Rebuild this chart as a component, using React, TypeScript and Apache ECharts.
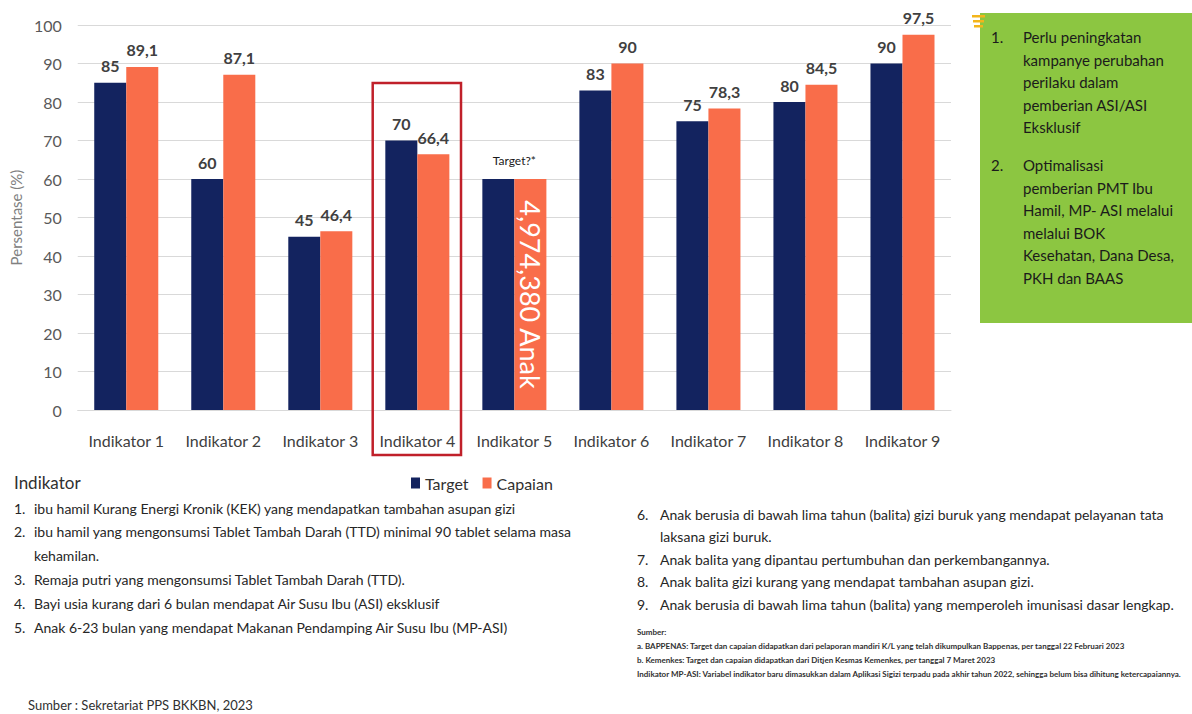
import React, { useEffect, useRef } from "react";
import * as echarts from "echarts";

const categories = [
  "Indikator 1", "Indikator 2", "Indikator 3", "Indikator 4", "Indikator 5",
  "Indikator 6", "Indikator 7", "Indikator 8", "Indikator 9",
];
const targetValues = [85, 60, 45, 70, 60, 83, 75, 80, 90];
const capaianValues = [89.1, 87.1, 46.4, 66.4, 60, 90, 78.3, 84.5, 97.5];
const yTicks = [0, 10, 20, 30, 40, 50, 60, 70, 80, 90, 100];
const specialIndex = 4;
const specialTargetLabel = "Target?*";
const specialCapaianLabel = "4,974,380 Anak";
const highlightedCategory = "Indikator 4";

const greenItems = [
  { num: "1.", lines: ["Perlu peningkatan", "kampanye perubahan", "perilaku dalam", "pemberian ASI/ASI", "Eksklusif"] },
  { num: "2.", lines: ["Optimalisasi", "pemberian PMT Ibu", "Hamil, MP- ASI melalui", "melalui BOK", "Kesehatan, Dana Desa,", "PKH dan BAAS"] },
];

const leftNotes = [
  { num: "1.", lines: ["ibu hamil Kurang Energi Kronik (KEK) yang mendapatkan tambahan asupan gizi"] },
  { num: "2.", lines: ["ibu hamil yang mengonsumsi Tablet Tambah Darah (TTD) minimal 90 tablet selama masa", "kehamilan."] },
  { num: "3.", lines: ["Remaja putri yang mengonsumsi Tablet Tambah Darah (TTD)."] },
  { num: "4.", lines: ["Bayi usia kurang dari 6 bulan mendapat Air Susu Ibu (ASI) eksklusif"] },
  { num: "5.", lines: ["Anak 6-23 bulan yang mendapat Makanan Pendamping Air Susu Ibu (MP-ASI)"] },
];
const rightNotes = [
  { num: "6.", lines: ["Anak berusia di bawah lima tahun (balita) gizi buruk yang mendapat pelayanan tata", "laksana gizi buruk."] },
  { num: "7.", lines: ["Anak balita yang dipantau pertumbuhan dan perkembangannya."] },
  { num: "8.", lines: ["Anak balita gizi kurang yang mendapat tambahan asupan gizi."] },
  { num: "9.", lines: ["Anak berusia di bawah lima tahun (balita) yang memperoleh imunisasi dasar lengkap."] },
];
const sourceSmall = [
  "Sumber:",
  "a. BAPPENAS: Target dan capaian didapatkan dari pelaporan mandiri K/L yang telah dikumpulkan Bappenas, per tanggal 22 Februari 2023",
  "b. Kemenkes: Target dan capaian didapatkan dari Ditjen Kesmas Kemenkes, per tanggal 7 Maret 2023",
  "Indikator MP-ASI: Variabel indikator baru dimasukkan dalam Aplikasi Sigizi terpadu pada akhir tahun 2022, sehingga belum bisa dihitung ketercapaiannya.",
];
const sourceMain = "Sumber : Sekretariat PPS BKKBN, 2023";

const FONT = "Lato, 'Noto Sans', sans-serif";
const NAVY = "#13235f";
const CORAL = "#f96d4a";

const fmt = (v: number) => String(v).replace(".", ",");

function txt(text: string, x: number, y: number, size: number, fill: string, weight = "normal", extra: any = {}) {
  return {
    type: "text",
    z: 10,
    style: {
      text, x, y, fill,
      fontSize: size, fontFamily: FONT, fontWeight: weight,
      verticalAlign: "middle", textVerticalAlign: "middle",
      ...extra,
    },
  };
}

export default function App() {
  const ref = useRef<HTMLDivElement>(null);
  useEffect(() => {
    if (!ref.current) return;
    const chart = echarts.init(ref.current, undefined, { renderer: "svg" });

    const targetData = targetValues.map((v, i) =>
      i === specialIndex
        ? { value: v, label: { formatter: specialTargetLabel, fontSize: 12, fontWeight: "normal", color: "#1a1a1a", offset: [16, -4] } }
        : v
    );
    const capaianData = capaianValues.map((v, i) =>
      i === specialIndex
        ? { value: v, label: { position: "inside", rotate: -90, formatter: specialCapaianLabel, fontSize: 27, fontWeight: "normal", color: "#ffffff" } }
        : v
    );

    const graphics: any[] = [];
    // green box
    graphics.push({ type: "rect", shape: { x: 980, y: 13, width: 212, height: 310 }, style: { fill: "#8cc641" }, z: 5 });
    [0, 1, 2].forEach((k) => {
      graphics.push({ type: "rect", shape: { x: 972 + k * 1, y: 15 + k * 5, width: 13 - k * 2, height: 2.5 }, style: { fill: "#f3b51b" }, z: 11 });
    });
    let gy = 37;
    greenItems.forEach((item, idx) => {
      if (idx > 0) gy += 15;
      graphics.push(txt(item.num, 991, gy, 15, "#1b1b1b"));
      item.lines.forEach((l) => {
        graphics.push(txt(l, 1023, gy, 15, "#1b1b1b"));
        gy += 22.6;
      });
    });

    // notes
    graphics.push(txt("Indikator", 14, 482, 17, "#303030"));
    let ly = 508;
    leftNotes.forEach((item) => {
      graphics.push(txt(item.num, 14, ly, 14, "#262626"));
      item.lines.forEach((l) => {
        graphics.push(txt(l, 34, ly, 14, "#262626"));
        ly += 23.8;
      });
    });
    let ry = 514;
    rightNotes.forEach((item) => {
      graphics.push(txt(item.num, 637, ry, 14, "#262626"));
      item.lines.forEach((l) => {
        graphics.push(txt(l, 660, ry, 14, "#262626"));
        ry += 22.5;
      });
    });
    sourceSmall.forEach((l, i) => {
      graphics.push(txt(l, 637, 632 + i * 14, 8, "#303030", "bold"));
    });
    graphics.push(txt(sourceMain, 28, 705, 13, "#303030"));

    const option: any = {
      animation: false,
      textStyle: { fontFamily: FONT },
      grid: { left: 73, right: 241, top: 25, bottom: 304, containLabel: false },
      legend: {
        data: ["Target", "Capaian"],
        left: 406, top: 470,
        icon: "rect", itemWidth: 9, itemHeight: 11, itemGap: 14,
        textStyle: { fontSize: 16, color: "#303030", fontFamily: FONT },
      },
      xAxis: {
        type: "category",
        data: categories,
        axisLine: { lineStyle: { color: "#d9d9d9", width: 1 } },
        axisTick: { show: false },
        axisLabel: { interval: 0, fontSize: 16, color: "#404040", margin: 22, fontFamily: FONT },
      },
      yAxis: {
        type: "value",
        min: yTicks[0], max: yTicks[yTicks.length - 1], interval: 10,
        name: "Persentase (%)",
        nameLocation: "middle", nameGap: 47, nameRotate: 90,
        nameTextStyle: { fontSize: 15, color: "#808080", fontFamily: FONT },
        axisLine: { show: false },
        axisTick: { show: false },
        axisLabel: { fontSize: 16, color: "#595959", margin: 16, fontFamily: FONT },
        splitLine: { lineStyle: { color: "#d9d9d9", width: 1 } },
      },
      series: [
        {
          name: "Target", type: "bar", data: targetData,
          itemStyle: { color: NAVY }, barGap: "0%", barCategoryGap: "34%",
          label: { show: true, position: "top", distance: 9, fontSize: 16, fontWeight: "bold", color: "#404040", formatter: (p: any) => fmt(p.value) },
        },
        {
          name: "Capaian", type: "bar", data: capaianData,
          itemStyle: { color: CORAL }, barGap: "0%", barCategoryGap: "34%",
          label: { show: true, position: "top", distance: 9, fontSize: 16, fontWeight: "bold", color: "#404040", formatter: (p: any) => fmt(p.value) },
        },
      ],
      graphic: graphics,
    };
    chart.setOption(option);

    // highlight box around Indikator 4, derived from axis scales
    const cx = chart.convertToPixel({ xAxisIndex: 0 }, highlightedCategory) as number;
    const y0 = chart.convertToPixel({ yAxisIndex: 0 }, 0) as number;
    const catW = (chart.convertToPixel({ xAxisIndex: 0 }, categories[1]) as number) - (chart.convertToPixel({ xAxisIndex: 0 }, categories[0]) as number);
    graphics.push({
      type: "rect",
      z: 20,
      shape: { x: cx - catW * 0.46, y: 83, width: catW * 0.91, height: y0 + 45 - 83 },
      style: { fill: "none", stroke: "#c0202a", lineWidth: 2.5 },
    });
    chart.setOption({ graphic: graphics });

    return () => chart.dispose();
  }, []);

  return (
    <div
      ref={ref}
      style={{ position: "absolute", left: 0, top: 0, width: 1192, height: 714, background: "#ffffff" }}
    />
  );
}
